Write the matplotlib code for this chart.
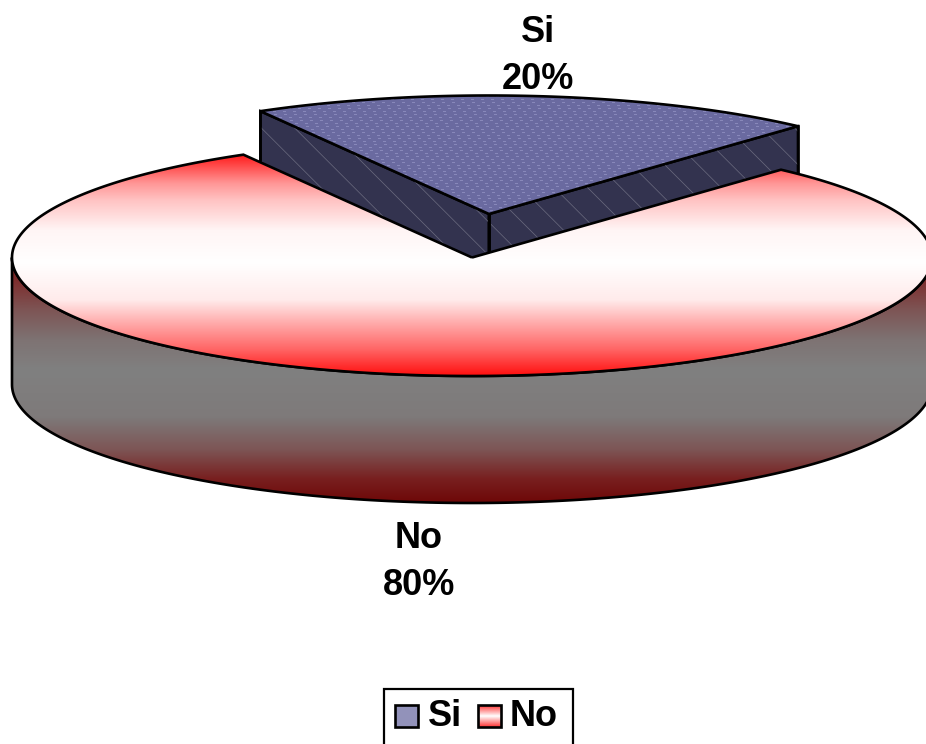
import numpy as np
import matplotlib
matplotlib.use("Agg")
import matplotlib.pyplot as plt
from matplotlib.patches import Polygon, Rectangle
from matplotlib.colors import LinearSegmentedColormap

plt.rcParams["font.family"] = ["Liberation Sans", "DejaVu Sans"]
plt.rcParams["hatch.linewidth"] = 0.5

# Datos
categorias = ["Si", "No"]
valores = [20, 80]
etiquetas = ["Si\n20%", "No\n80%"]

# Geometria de la torta (pixeles)
A, B, ALTO = 460, 118.5, 127
CENTRO_SI = (489, 214)
CENTRO_NO = (472, 257.5)
INICIO = 119.8
LW = 1.9

fig = plt.figure(figsize=(9.26, 7.44), dpi=100)
ax = fig.add_axes([0, 0, 1, 1])


def arco(centro, a0, a1, n=200):
    t = np.radians(np.linspace(a0, a1, n))
    return np.column_stack([centro[0] + A * np.cos(t), centro[1] - B * np.sin(t)])


def degradado(poly, paradas, y0, y1, z):
    cmap = LinearSegmentedColormap.from_list("g", paradas)
    img = np.linspace(0, 1, 512).reshape(-1, 1)
    im = ax.imshow(img, cmap=cmap, extent=[-5, 940, y1, y0], aspect="auto", zorder=z, vmin=0, vmax=1)
    im.set_clip_path(poly)


def pared(p):
    return np.vstack([p, p[::-1] + [0, ALTO]])


def rojo(y, g):
    # parada de degradado rojo-blanco segun la fila de la tapa
    t = (y - (CENTRO_NO[1] - B)) / (2 * B)
    return (t, (1, g / 255, g / 255))


def oscuro(y, g):
    # parada de degradado gris-rojo oscuro segun la fila de la pared
    t = (y - CENTRO_NO[1]) / (B + ALTO)
    return (t, (g[0] / 255, g[1] / 255, g[1] / 255))


# Angulos de cada porcion
barrido = 360 * valores[0] / sum(valores)
fin_si = INICIO - barrido

# Paredes de Si
apice = np.array([CENTRO_SI])
izq = np.vstack([apice, arco(CENTRO_SI, INICIO, INICIO, 2)[:1]])
der = np.vstack([apice, arco(CENTRO_SI, fin_si, fin_si, 2)[:1]])
for borde in (izq, der):
    ax.add_patch(Polygon(pared(borde), closed=True, facecolor="#33334f", edgecolor="black", lw=LW, zorder=1))
    ax.add_patch(Polygon(pared(borde), closed=True, fill=False, edgecolor="#6c6c80", hatch="\\", lw=0, zorder=1.1))
    for x, y in borde:
        ax.plot([x, x], [y, y + ALTO], color="black", lw=LW, zorder=1.2)

# Cara superior de Si con textura punteada
verts_si = np.vstack([apice, arco(CENTRO_SI, INICIO, fin_si)])
ax.add_patch(Polygon(verts_si, closed=True, facecolor="none", edgecolor="black", lw=LW, zorder=3, joinstyle="miter"))
yy, xx = np.mgrid[90:220, 250:810]
textura = np.zeros(xx.shape + (3,))
textura[...] = (106, 106, 160)
fila = (yy // 3) % 2
marca = ((xx + 4 * (yy // 6) + fila * 5) % 10 < 3) & (yy % 3 == 0)
textura[marca] = (136, 136, 186)
im_si = ax.imshow(textura / 255, extent=[250, 810, 220, 90], aspect="auto", interpolation="nearest", zorder=2)
im_si.set_clip_path(Polygon(verts_si, closed=True, transform=ax.transData))

# Pared frontal de No
verts_pared = pared(arco(CENTRO_NO, 180, 360, 300))
ax.add_patch(Polygon(verts_pared, closed=True, facecolor="none", edgecolor="black", lw=LW, zorder=5))
paradas_pared = [(0.0, (122 / 255, 20 / 255, 20 / 255))]
paradas_pared += [oscuro(y, g) for y, g in [(280, (125, 45)), (310, (125, 85)), (340, (126, 115)),
                                             (370, (128, 128)), (417, (126, 122)), (450, (125, 85)),
                                             (480, (120, 30))]]
paradas_pared += [(1.0, (110 / 255, 8 / 255, 8 / 255))]
degradado(Polygon(verts_pared, closed=True, transform=ax.transData), paradas_pared,
          CENTRO_NO[1], CENTRO_NO[1] + B + ALTO, 4)

# Cara superior de No
verts_no = np.vstack([[CENTRO_NO], arco(CENTRO_NO, fin_si, INICIO - 360, 500)])
ax.add_patch(Polygon(verts_no, closed=True, facecolor="none", edgecolor="black", lw=LW, zorder=7, joinstyle="miter"))
paradas_no = [(0.0, (1, 0, 0))]
paradas_no += [rojo(y, g) for y, g in [(155, 30), (183, 150), (200, 195), (230, 245), (262, 255),
                                        (300, 235), (320, 180), (350, 100)]]
paradas_no += [(1.0, (1, 15 / 255, 15 / 255))]
degradado(Polygon(verts_no, closed=True, transform=ax.transData), paradas_no,
          CENTRO_NO[1] - B, CENTRO_NO[1] + B, 6)

# Etiquetas
ax.text(538, 56, etiquetas[0], ha="center", va="center", fontsize=26, fontweight="bold", linespacing=1.44, zorder=8)
ax.text(419, 562, etiquetas[1], ha="center", va="center", fontsize=26, fontweight="bold", linespacing=1.44, zorder=8)

# Leyenda
ax.add_patch(Rectangle((384, 689), 189, 70, facecolor="white", edgecolor="black", lw=1.6, zorder=8))
ax.add_patch(Rectangle((395, 705), 23, 22, facecolor="#9292ba", edgecolor="black", lw=LW, zorder=10))
ax.add_patch(Rectangle((478, 705), 23, 22, facecolor="none", edgecolor="black", lw=LW, zorder=10))
degradado(Rectangle((478, 705), 23, 22, transform=ax.transData),
          [(0.0, "#ff3030"), (0.5, "#ffffff"), (1.0, "#ff3030")], 705, 727, 9)
ax.text(428, 716, categorias[0], ha="left", va="center", fontsize=26, fontweight="bold", zorder=10)
ax.text(510, 716, categorias[1], ha="left", va="center", fontsize=26, fontweight="bold", zorder=10)

ax.set_xlim(0, 926)
ax.set_ylim(744, 0)
ax.axis("off")
fig.savefig("out.png", dpi=100, facecolor="white")
